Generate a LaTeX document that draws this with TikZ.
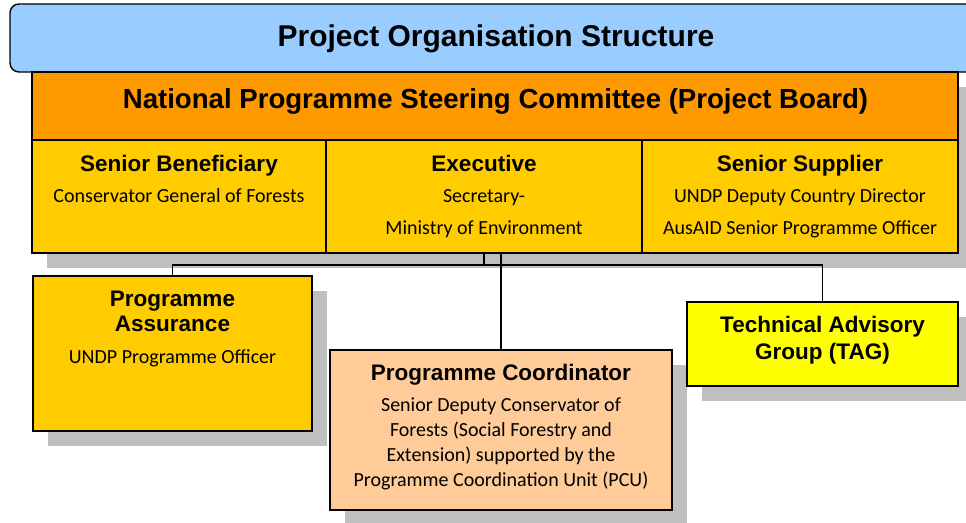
\documentclass[tikz,border=0pt]{standalone}
\usepackage{fontspec}
\setmainfont{Carlito}
\newfontfamily\hdfont{Liberation Sans}
\definecolor{titleblue}{HTML}{99CCFF}
\definecolor{boardorange}{HTML}{FF9900}
\definecolor{cellgold}{HTML}{FFCC00}
\definecolor{tagyellow}{HTML}{FFFF00}
\definecolor{pcpeach}{HTML}{FFCC99}
\definecolor{shadowgray}{HTML}{BFBFBF}
\begin{document}
\begin{tikzpicture}[x=1pt,y=-1pt,
 box/.style={draw=black,line width=1.4pt,inner sep=0pt,outer sep=0pt,anchor=north west},
 shadowbox/.style={fill=shadowgray,draw=none,inner sep=0pt,outer sep=0pt,anchor=north west},
 hd/.style={font=\hdfont\bfseries\fontsize{22.5}{25}\selectfont,anchor=base,inner sep=0pt},
 bd/.style={font=\fontsize{20}{24}\selectfont,anchor=base,inner sep=0pt},
 conn/.style={draw=black,line width=1.3pt}]
\useasboundingbox (0,0) rectangle (966,522);
\clip (0,0) rectangle (966,522);
% title
\node[box,fill=titleblue,rounded corners=9pt,minimum width=1000pt,minimum height=68pt] (title) at (10,4) {};
\node[font=\hdfont\bfseries\fontsize{30}{34}\selectfont,anchor=base,inner sep=0pt] (titletext) at (496,46) {Project Organisation Structure};
% board
\node[shadowbox,minimum width=926pt,minimum height=181pt] (boardshadow) at (47,87) {};
\node[box,fill=boardorange,minimum width=926pt,minimum height=68pt] (board) at (32,72) {};
\node[font=\hdfont\bfseries\fontsize{27.6}{30}\selectfont,anchor=base,inner sep=0pt] (boardtext) at (495.5,108) {National Programme Steering Committee (Project Board)};
\node[box,fill=cellgold,minimum width=294pt,minimum height=113pt] (sb) at (32,140) {};
\node[box,fill=cellgold,minimum width=316pt,minimum height=113pt] (exec) at (326,140) {};
\node[box,fill=cellgold,minimum width=316pt,minimum height=113pt] (ss) at (642,140) {};
\node[hd] (sbh) at (179,171) {Senior Beneficiary};
\node[bd] (sbb) at (179,202.5) {Conservator General of Forests};
\node[hd] (exh) at (484,171) {Executive};
\node[bd] (exb1) at (484,202) {Secretary-};
\node[bd] (exb2) at (484,234.5) {Ministry of Environment};
\node[hd] (ssh) at (800,171) {Senior Supplier};
\node[bd] (ssb1) at (800,202) {UNDP Deputy Country Director};
\node[bd] (ssb2) at (800,234.5) {AusAID Senior Programme Officer};
% lower shadows
\node[shadowbox,minimum width=279pt,minimum height=155pt] (pashadow) at (48,291) {};
\node[shadowbox,minimum width=342pt,minimum height=160pt] (pcshadow) at (345,365) {};
\node[shadowbox,minimum width=271pt,minimum height=84pt] (tagshadow) at (702,317) {};
% lower boxes
\node[box,fill=cellgold,minimum width=279pt,minimum height=155pt] (pa) at (33,276) {};
\node[box,fill=pcpeach,minimum width=342pt,minimum height=160pt] (pc) at (330,350) {};
\node[box,fill=tagyellow,minimum width=271pt,minimum height=84pt] (tag) at (687,302) {};
% connectors
\draw[conn] (exec.south) -- ++(0,12) -| (pa.north);
\draw[conn] (exec.south) -- ++(0,12) -| (tag.north);
\draw[conn] (pc.north) -- (pc.north |- exec.south);
% texts
\node[hd] (pah1) at (172.5,306.5) {Programme};
\node[hd] (pah2) at (172.5,331) {Assurance};
\node[bd] (pab) at (172.5,363.5) {UNDP Programme Officer};
\node[hd] (tagh1) at (822.5,332.5) {Technical Advisory};
\node[hd] (tagh2) at (822.5,359) {Group (TAG)};
\node[hd] (pch) at (501,380) {Programme Coordinator};
\node[bd] (pcb1) at (501,411.5) {Senior Deputy Conservator of};
\node[bd] (pcb2) at (501,436.5) {Forests (Social Forestry and};
\node[bd] (pcb3) at (501,461.5) {Extension) supported by the};
\node[bd] (pcb4) at (501,486.5) {Programme Coordination Unit (PCU)};
\end{tikzpicture}
\end{document}
